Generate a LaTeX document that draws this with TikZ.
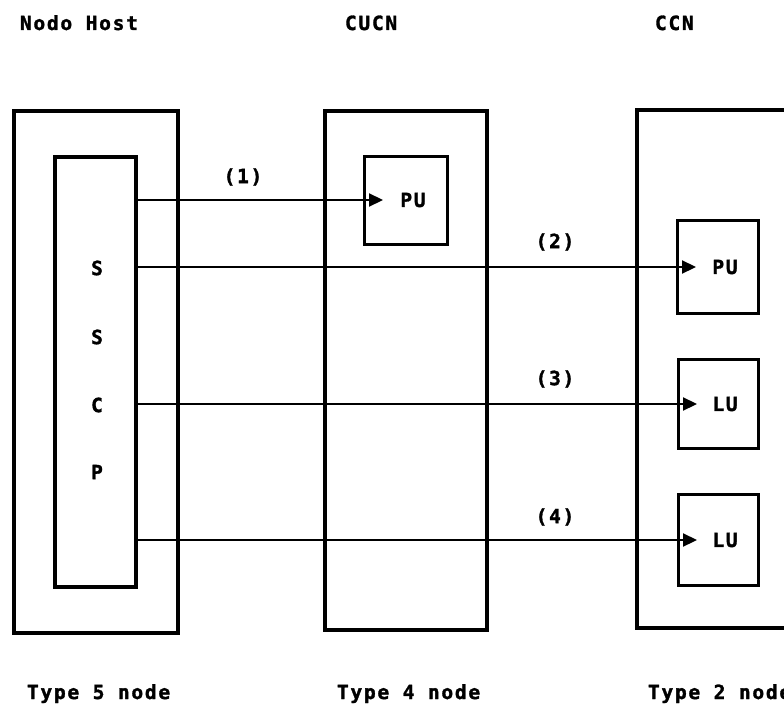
\documentclass[tikz,border=0pt]{standalone}
\usepackage{fontspec}
\newfontfamily\plotfont[LetterSpace=9, BoldFeatures={FakeBold=1.6}]{DejaVu Sans Mono}
\usetikzlibrary{arrows.meta}
\tikzset{
  frame/.style={draw, line width=3.3pt, inner sep=0pt, outer sep=0pt},
  unitbox/.style={draw, line width=3pt, inner sep=0pt, outer sep=0pt},
  txt/.style={font=\plotfont\bfseries\fontsize{19.5}{22}\selectfont, inner sep=0pt, outer sep=0pt},
  conn/.style={line width=2.2pt, -{Triangle[length=14pt,width=13pt]}}
}
\begin{document}
\begin{tikzpicture}[x=1pt,y=-1pt]
\useasboundingbox[fill=white] (0,0) rectangle (784,706);

% column headings
\node[txt, anchor=base west] (h1) at (20,30) {Nodo Host};
\node[txt, anchor=base west] (h2) at (345,30) {CUCN};
\node[txt, anchor=base west] (h3) at (655,30) {CCN};

% outer node frames
\node[frame, minimum width=164pt, minimum height=522pt] (host) at (96,372) {};
\node[frame, minimum width=162pt, minimum height=519pt] (cucn) at (406,370.5) {};
\node[frame, minimum width=166pt, minimum height=518pt] (ccn) at (720,369) {};

% SSCP
\node[frame, minimum width=81pt, minimum height=430pt] (sscp) at (95.5,372) {};
\node[txt] (s1) at (97,268) {S};
\node[txt] (s2) at (97,337) {S};
\node[txt] (c1) at (97,405) {C};
\node[txt] (p1) at (97,472) {P};

% units
\node[unitbox, minimum width=83pt, minimum height=88pt] (pu1) at (405.5,200) {};
\node[unitbox, minimum width=81pt, minimum height=93pt] (pu2) at (717.5,267) {};
\node[unitbox, minimum width=80pt, minimum height=89pt] (lu1) at (718,404) {};
\node[unitbox, minimum width=80pt, minimum height=91pt] (lu2) at (718,540) {};

\node[txt] (pu1t) at (413,200) {PU};
\node[txt] (pu2t) at (725,267) {PU};
\node[txt] (lu1t) at (725,404) {LU};
\node[txt] (lu2t) at (725,540) {LU};

% connectors
\draw[conn] (sscp.east |- pu1) -- ([xshift=19pt]pu1.west);
\draw[conn] (sscp.east |- pu2) -- ([xshift=19pt]pu2.west);
\draw[conn] (sscp.east |- lu1) -- ([xshift=19pt]lu1.west);
\draw[conn] (sscp.east |- lu2) -- ([xshift=19pt]lu2.west);

% connector labels
\node[txt] (l1) at (243,177) {(1)};
\node[txt] (l2) at (555,242) {(2)};
\node[txt] (l3) at (555,379) {(3)};
\node[txt] (l4) at (555,517) {(4)};

% node type labels
\node[txt, anchor=base west] (t1) at (27,699) {Type 5 node};
\node[txt, anchor=base west] (t2) at (337,699) {Type 4 node};
\node[txt, anchor=base west] (t3) at (648,699) {Type 2 node};
\end{tikzpicture}
\end{document}
